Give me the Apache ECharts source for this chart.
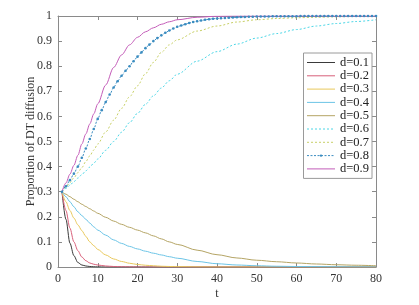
<!DOCTYPE html>
<html><head><meta charset="utf-8">
<script src="https://cdn.jsdelivr.net/npm/echarts@6/dist/echarts.min.js"></script>
<style>html,body{margin:0;padding:0;background:#fff}#c{width:419px;height:305px}</style>
</head><body><div id="c"></div>
<script>
// time points shared by most series
var T = [1,2,3,4,5,6,7,8,9,10,12,14,16,18,20,22,24,26,28,30,35,40,45,50,55,60,65,70,75,80];
var d01 = [0.3,0.19,0.095,0.045,0.018,0.008,0.004,0.002,0.001,0.0005,0,0,0,0,0,0,0,0,0,0,0,0,0,0,0,0,0,0,0,0];
var d02 = [0.3,0.225,0.155,0.1,0.065,0.04,0.025,0.016,0.011,0.008,0.004,0.002,0.001,0.0005,0,0,0,0,0,0,0,0,0,0,0,0,0,0,0,0];
var d03 = [0.3,0.26,0.225,0.195,0.168,0.145,0.122,0.1,0.085,0.07,0.048,0.032,0.022,0.015,0.01,0.007,0.005,0.003,0.002,0.0015,0.0005,0,0,0,0,0,0,0,0,0];
var d04 = [0.3,0.28,0.26,0.24,0.22,0.205,0.19,0.175,0.16,0.147,0.127,0.108,0.094,0.082,0.072,0.063,0.055,0.048,0.041,0.035,0.022,0.013,0.008,0.005,0.003,0.002,0.0015,0.001,0.0005,0.0003];
var d05 = [0.3,0.29,0.28,0.27,0.26,0.25,0.241,0.232,0.223,0.214,0.198,0.183,0.17,0.158,0.147,0.136,0.124,0.112,0.1,0.09,0.067,0.049,0.036,0.027,0.021,0.016,0.012,0.009,0.007,0.005];
var d06 = [0.3,0.313,0.326,0.34,0.354,0.368,0.383,0.398,0.414,0.43,0.465,0.5,0.537,0.575,0.612,0.648,0.682,0.713,0.742,0.768,0.82,0.858,0.888,0.912,0.93,0.946,0.96,0.97,0.978,0.985];
var d07 = [0.3,0.318,0.336,0.355,0.376,0.396,0.42,0.443,0.466,0.49,0.538,0.585,0.632,0.678,0.722,0.77,0.815,0.855,0.885,0.905,0.94,0.96,0.976,0.985,0.99,0.993,0.995,0.997,0.998,0.999];
var d09 = [0.3,0.335,0.37,0.405,0.445,0.49,0.53,0.57,0.61,0.65,0.725,0.795,0.845,0.885,0.915,0.937,0.953,0.967,0.977,0.985,0.995,0.999,1,1,1,1,1,1,1,1];
// d=0.8 is drawn with a marker at every time step
var T8 = [];
for (var i = 1; i <= 80; i++) T8.push(i);
var d08 = [0.3,0.322,0.346,0.372,0.4,0.435,0.472,0.51,0.55,0.59,0.625,0.657,0.687,0.715,0.74,0.762,0.782,0.8,0.82,0.838,
  0.855,0.872,0.886,0.9,0.912,0.923,0.933,0.942,0.95,0.957,0.962,0.967,0.972,0.976,0.979,0.982,0.985,0.987,0.989,0.99,
  0.991,0.992,0.993,0.994,0.995,0.996,0.996,0.997,0.997,0.998,0.998,0.998,0.998,0.999,0.999,0.999,0.999,0.999,0.999,0.999,
  1,1,1,1,1,1,1,1,1,1,1,1,1,1,1,1,1,1,1,1];
var names = ['d=0.1','d=0.2','d=0.3','d=0.4','d=0.5','d=0.6','d=0.7','d=0.8','d=0.9'];
var xTicks = [0,10,20,30,40,50,60,70,80];

function pairs(t, v){ return t.map(function(x,i){ return [x, v[i]]; }); }
var FONT = 'Liberation Serif';
var spec = [
  {v:d01, t:T,  c:'#3a3a3a', type:'solid'},
  {v:d02, t:T,  c:'#d8607a', type:'solid'},
  {v:d03, t:T,  c:'#e8c85c', type:'solid'},
  {v:d04, t:T,  c:'#6cc4e6', type:'solid'},
  {v:d05, t:T,  c:'#b4a464', type:'solid'},
  {v:d06, t:T,  c:'#4cd6e6', type:[2,2]},
  {v:d07, t:T,  c:'#c8d068', type:[2,2]},
  {v:d08, t:T8, c:'#3a8cc0', type:[2,1.5], sym:true},
  {v:d09, t:T,  c:'#c35cb8', type:'solid'}
];
var series = spec.map(function(s, i){
  return {
    name: names[i], type:'line', xAxisIndex:0, yAxisIndex:0,
    data: pairs(s.t, s.v), smooth: 0.3, smoothMonotone:'x',
    symbol: s.sym ? 'circle' : 'none', symbolSize: 2.6, showSymbol: !!s.sym,
    itemStyle:{color:s.c}, lineStyle:{color:s.c, width:1, type:s.type},
    animation:false, z: 2
  };
});
var legendData = names.map(function(n, i){
  return spec[i].sym ? {name:n, itemStyle:{opacity:1}} : {name:n, itemStyle:{opacity:0}};
});
var axisCol = '#8a8a8a';
var chart = echarts.init(document.getElementById('c'), null, {renderer:'canvas'});
chart.setOption({
  animation:false,
  grid:{left:58, right:43, top:16, bottom:38},
  legend:{
    orient:'vertical', right:47, top:53,
    data:legendData, itemWidth:28, itemHeight:3, itemGap:0.3,
    padding:[3,2,3,3], borderColor:'#9a9a9a', borderWidth:1, backgroundColor:'#fff',
    lineStyle:{width:1},
    textStyle:{fontFamily:FONT, fontSize:12.5, color:'#222', lineHeight:13, height:13, width:30, overflow:'none'}
  },
  xAxis:[{
    type:'value', min:0, max:80, interval:10, position:'bottom',
    name:'t', nameLocation:'middle', nameGap:21, nameMoveOverlap:false,
    nameTextStyle:{fontFamily:FONT, fontSize:12, color:'#333'},
    axisLine:{show:true, lineStyle:{color:axisCol}},
    axisTick:{show:true, inside:true, length:4, lineStyle:{color:axisCol}},
    axisLabel:{fontFamily:FONT, fontSize:12, color:'#333', margin:6,
      formatter:function(v){ return xTicks.indexOf(v) >= 0 ? String(v) : ''; }},
    splitLine:{show:false}
  },{
    type:'value', min:0, max:80, interval:10, position:'top',
    axisLine:{show:true, onZero:false, lineStyle:{color:axisCol}},
    axisTick:{show:true, inside:true, length:4, lineStyle:{color:axisCol}},
    axisLabel:{show:false}, splitLine:{show:false}
  }],
  yAxis:[{
    type:'value', min:0, max:1, interval:0.1, position:'left',
    name:'Proportion of DT diffusion', nameLocation:'middle', nameGap:21, nameMoveOverlap:false,
    nameTextStyle:{fontFamily:FONT, fontSize:12, color:'#333'},
    axisLine:{show:true, lineStyle:{color:axisCol}},
    axisTick:{show:true, inside:true, length:4, lineStyle:{color:axisCol}},
    axisLabel:{fontFamily:FONT, fontSize:12, color:'#333', margin:6},
    splitLine:{show:false}
  },{
    type:'value', min:0, max:1, interval:0.1, position:'right',
    axisLine:{show:true, onZero:false, lineStyle:{color:axisCol}},
    axisTick:{show:true, inside:true, length:4, lineStyle:{color:axisCol}},
    axisLabel:{show:false}, splitLine:{show:false}
  }],
  series: series
});
</script></body></html>
